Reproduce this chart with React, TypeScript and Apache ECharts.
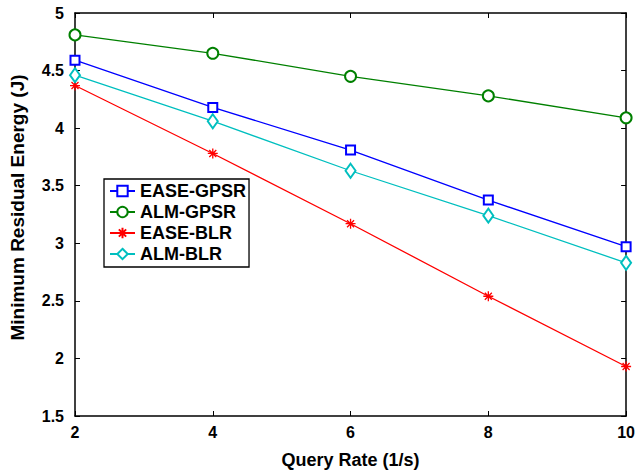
import React, { useEffect, useRef } from "react";
import * as echarts from "echarts";

const queryRates = [2, 4, 6, 8, 10];
const easeGpsr = [4.59, 4.18, 3.81, 3.375, 2.97];
const almGpsr = [4.81, 4.65, 4.45, 4.28, 4.09];
const easeBlr = [4.37, 3.78, 3.17, 2.54, 1.93];
const almBlr = [4.46, 4.06, 3.63, 3.24, 2.83];

const FONT = "'Liberation Sans', Arial, sans-serif";
const ASTERISK =
  "path://M0,-10L0,10M-10,0L10,0M-7,-7L7,7M-7,7L7,-7M0,-10Z";

export default function App() {
  const ref = useRef<HTMLDivElement>(null);
  useEffect(() => {
    if (!ref.current) return;
    const chart = echarts.init(ref.current, undefined, { renderer: "svg" });
    const mk = (arr: number[]) => queryRates.map((x, i) => [x, arr[i]]);
    const series: any[] = [
      {
        name: "EASE-GPSR",
        data: mk(easeGpsr),
        color: "#0000ff",
        symbol: "emptyRect",
        symbolSize: 9,
      },
      {
        name: "ALM-GPSR",
        data: mk(almGpsr),
        color: "#008000",
        symbol: "emptyCircle",
        symbolSize: 11,
      },
      {
        name: "EASE-BLR",
        data: mk(easeBlr),
        color: "#ff0000",
        symbol: ASTERISK,
        symbolSize: 10,
        itemStyle: { color: "#ff0000", borderColor: "#ff0000", borderWidth: 1.3 },
      },
      {
        name: "ALM-BLR",
        data: mk(almBlr),
        color: "#00bfbf",
        symbol: "emptyDiamond",
        symbolSize: [10, 14],
      },
    ].map((s) => ({
      type: "line",
      showSymbol: true,
      lineStyle: { width: 1.3, color: s.color },
      itemStyle: s.itemStyle || { color: s.color, borderColor: s.color, borderWidth: 1.3 },
      emphasis: { disabled: true },
      xAxisIndex: 0,
      yAxisIndex: 0,
      ...s,
    }));

    const axisLine = { show: true, onZero: false, lineStyle: { color: "#000", width: 1.5 } };
    const axisTick = { show: true, inside: true, length: 5, lineStyle: { color: "#000", width: 1 } };
    const tickFont = { fontFamily: FONT, fontWeight: "bold", fontSize: 16, color: "#000" };
    const nameFont = { fontFamily: FONT, fontWeight: "bold", fontSize: 18, color: "#000" };
    chart.setOption({
      animation: false,
      backgroundColor: "#fff",
      grid: { left: 75, right: 11, top: 13, bottom: 59, containLabel: false },
      legend: {
        orient: "vertical",
        left: 104,
        top: 179,
        itemWidth: 25,
        itemHeight: 13,
        itemGap: 3,
        padding: [3, 3, 4, 5],
        borderColor: "#000",
        borderWidth: 1.3,
        backgroundColor: "#fff",
        textStyle: { fontFamily: FONT, fontWeight: "bold", fontSize: 18, color: "#000" },
        data: ["EASE-GPSR", "ALM-GPSR", "EASE-BLR", "ALM-BLR"],
      },
      xAxis: [
        {
          type: "value",
          min: 2,
          max: 10,
          interval: 2,
          position: "bottom",
          name: "Query Rate (1/s)",
          nameLocation: "middle",
          nameGap: 35,
          nameTextStyle: nameFont,
          axisLine,
          axisTick,
          axisLabel: { ...tickFont, margin: 8 },
          splitLine: { show: false },
        },
        {
          type: "value",
          min: 2,
          max: 10,
          interval: 2,
          position: "top",
          axisLine,
          axisTick,
          axisLabel: { show: false },
          splitLine: { show: false },
        },
      ],
      yAxis: [
        {
          type: "value",
          min: 1.5,
          max: 5,
          interval: 0.5,
          position: "left",
          name: "Minimum Residual Energy (J)",
          nameLocation: "middle",
          nameGap: 48,
          nameTextStyle: { ...nameFont, fontSize: 19, padding: [0, 0, 0, 14] },
          axisLine,
          axisTick,
          axisLabel: { ...tickFont, margin: 11 },
          splitLine: { show: false },
        },
        {
          type: "value",
          min: 1.5,
          max: 5,
          interval: 0.5,
          position: "right",
          axisLine,
          axisTick,
          axisLabel: { show: false },
          splitLine: { show: false },
        },
      ],
      series,
    });
    return () => chart.dispose();
  }, []);
  return <div ref={ref} style={{ width: 638, height: 475, position: "absolute", left: 0, top: 0 }} />;
}
